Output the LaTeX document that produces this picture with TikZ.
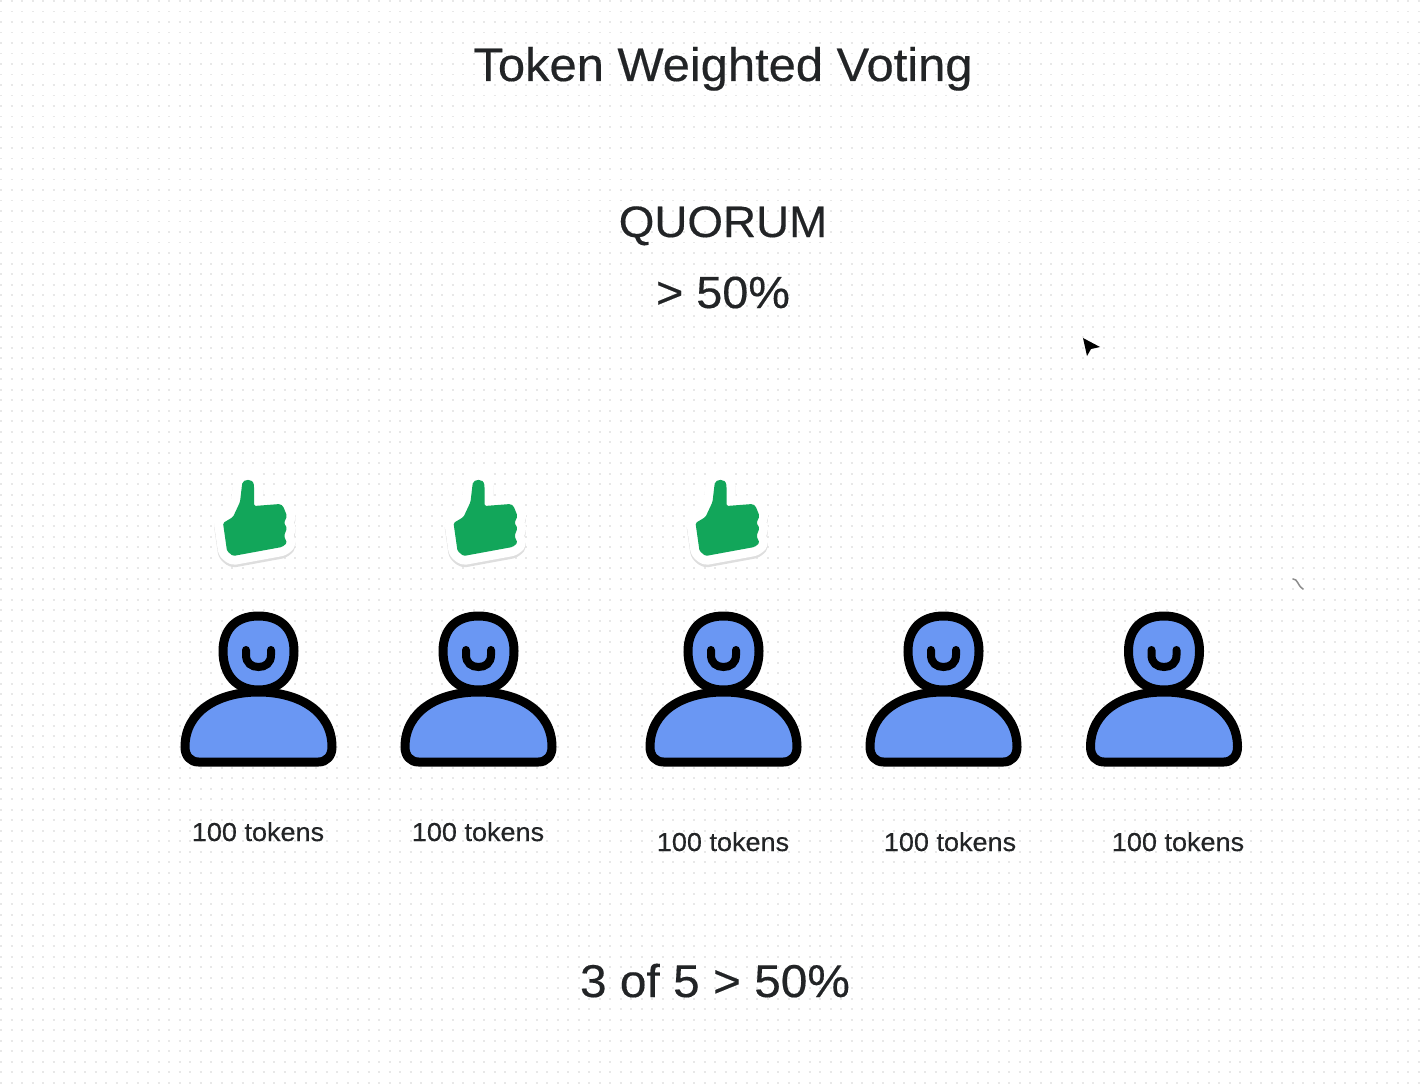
\documentclass[tikz,border=0pt]{standalone}
\usepackage{fontspec}
\setmainfont{Liberation Sans}
\newfontfamily\voteface[FakeStretch=1.04,FakeBold=0.35]{Liberation Sans}
\definecolor{bodyblue}{HTML}{6A97F3}
\definecolor{thumbgreen}{HTML}{12A65A}
\definecolor{inkgray}{HTML}{222426}
\tikzset{
    heading/.style={text=inkgray,font=\voteface\fontsize{46}{54}\selectfont,inner sep=0pt,anchor=base},
    tokens/.style={text=inkgray,font=\voteface\fontsize{26}{31}\selectfont,inner sep=0pt,anchor=base},
    outline/.style={draw=black,line width=9pt,line join=round,fill=bodyblue},
    pics/voter/.style={code={
        \draw[outline] (-73.5,96) .. controls (-73.5,60) and (-40,41) .. (0,41)
            .. controls (40,41) and (73.5,60) .. (73.5,96)
            .. controls (73.5,105) and (68,111) .. (60,111) -- (-60,111)
            .. controls (-68,111) and (-73.5,105) .. (-73.5,96) -- cycle;
        \draw[outline] (0,-35) .. controls (24,-35) and (35.5,-20) .. (35.5,0)
            .. controls (35.5,24) and (22,39) .. (0,39)
            .. controls (-22,39) and (-35.5,24) .. (-35.5,0)
            .. controls (-35.5,-20) and (-24,-35) .. (0,-35) -- cycle;
        \draw[line width=8pt,line cap=round] (-12.5,-1) -- (-12.5,4)
            .. controls (-12.5,12) and (-7,16) .. (0,16)
            .. controls (7,16) and (12.5,12) .. (12.5,4) -- (12.5,-1);
    }},
    thumbshape/.style={line join=round,rounded corners=1.5pt},
    pics/thumb/.style={code={
        \def\thumbpath{(-32,5) -- (-22,-1) -- (-15,-16) -- (-13,-33) .. controls (-12,-39) and (-2,-40) .. (-1,-32)
            -- (-1,-12) -- (25,-14) -- (28,-12) -- (32,-2) -- (29,5) -- (32,10) -- (29,18)
            -- (32,25) -- (27,29) -- (-22,38) -- (-28,33) -- cycle}
        \draw[thumbshape,draw=black!13,fill=black!13,line width=18pt] [yshift=-2.5pt] \thumbpath;
        \draw[thumbshape,draw=white,fill=white,line width=18pt] \thumbpath;
        \fill[thumbshape,thumbgreen] \thumbpath;
    }},
}
\begin{document}
\begin{tikzpicture}[x=1pt,y=-1pt]
\useasboundingbox (0,0) rectangle (1420,1091);
\fill[white] (0,0) rectangle (1420,1091);
\foreach \row in {0,...,103}
    \draw[black!9,line width=1.6pt,dash pattern=on 1.6pt off 8.9pt]
        (0.4,1.2+10.5*\row) -- (1420,1.2+10.5*\row);

\node[heading,font=\voteface\fontsize{47}{54}\selectfont] (title) at (723,81) {Token Weighted Voting};
\node[heading,font=\voteface\fontsize{44}{54}\selectfont] (quorum) at (723,237) {QUORUM};
\node[heading,font=\voteface\fontsize{45}{54}\selectfont] (limit) at (723,308) {> 50\%};
\node[heading] (result) at (715,997) {3 of 5 > 50\%};

\pic at (258.5,651) {voter};
\pic at (478.5,651) {voter};
\pic at (723.5,651) {voter};
\pic at (943.5,651) {voter};
\pic at (1164,651) {voter};

\pic at (255,518) {thumb};
\pic at (485.5,518) {thumb};
\pic at (727.5,518) {thumb};

\node[tokens] (tokensa) at (258,841) {100 tokens};
\node[tokens] (tokensb) at (478,841) {100 tokens};
\node[tokens] (tokensc) at (723,851) {100 tokens};
\node[tokens] (tokensd) at (950,851) {100 tokens};
\node[tokens] (tokense) at (1178,851) {100 tokens};

% pointer and stray mark
\fill[black] (1083,338) -- (1100,347) -- (1091,349) -- (1087,356) -- cycle;
\draw[black!45,line width=1.5pt,line cap=round] (1293,579) .. controls (1298,579) and (1297,585) .. (1303,589);
\end{tikzpicture}
\end{document}
